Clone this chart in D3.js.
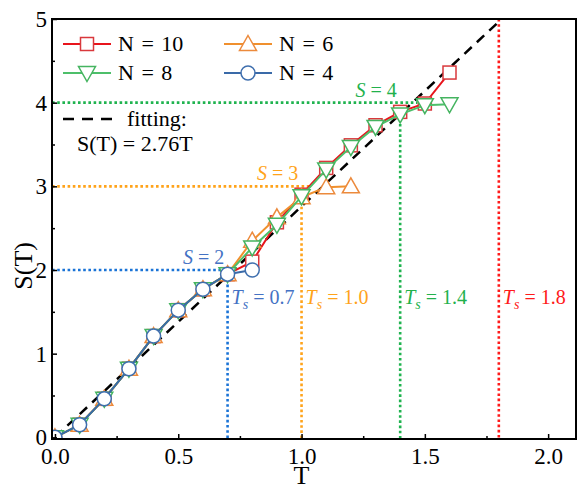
<!DOCTYPE html>
<html>
<head>
<meta charset="utf-8">
<script src="https://cdn.jsdelivr.net/npm/d3@7"></script>
<style>
  body { margin: 0; background: #fff; }
  text { font-family: "Liberation Serif", "DejaVu Serif", serif; }
</style>
</head>
<body>
<div id="wrapper"></div>
<script>
// data
const temps = [0, 0.1, 0.2, 0.3, 0.4, 0.5, 0.6, 0.7, 0.8, 0.9, 1.0, 1.1, 1.2, 1.3, 1.4, 1.5, 1.6]
const sN10 = [0, 0.15, 0.46, 0.82, 1.21, 1.52, 1.77, 1.95, 2.10, 2.57, 2.90, 3.22, 3.49, 3.73, 3.89, 3.99, 4.36]
const sN8  = [0, 0.15, 0.46, 0.82, 1.21, 1.52, 1.77, 1.95, 2.27, 2.54, 2.88, 3.20, 3.47, 3.71, 3.86, 3.97, 3.98]
const sN6  = [0, 0.15, 0.46, 0.82, 1.21, 1.52, 1.77, 1.95, 2.35, 2.63, 2.87, 2.99, 3.00]
const sN4  = [0, 0.15, 0.46, 0.82, 1.21, 1.52, 1.77, 1.95, 2.00]
const seriesNames = ["N = 10", "N = 6", "N = 8", "N = 4"]
const fitSlope = 2.76
const fitRange = [0, 1.8]
const xTicks = [0, 0.5, 1.0, 1.5, 2.0]
const xMinor = [0.25, 0.75, 1.25, 1.75]
const yTicks = [0, 1, 2, 3, 4, 5]
const yMinor = [0.5, 1.5, 2.5, 3.5, 4.5]
// threshold markers: S level, T_s, end of horizontal, top of vertical
const sLevels = [2, 3, 4]
const tsValues = [0.7, 1.0, 1.4, 1.8]
const hEnds = [0.72, 1.04, 1.47]
const vTops = [1.95, 2.88, 3.87, 5]

const dimensions = {
  width: 578,
  height: 488,
  margin: { top: 19, right: 2, bottom: 49, left: 52 },
}
dimensions.boundedWidth = dimensions.width - dimensions.margin.left - dimensions.margin.right
dimensions.boundedHeight = dimensions.height - dimensions.margin.top - dimensions.margin.bottom

const svg = d3.select("#wrapper").append("svg")
  .attr("width", dimensions.width)
  .attr("height", dimensions.height)

const bounds = svg.append("g")
  .attr("transform", `translate(${dimensions.margin.left},${dimensions.margin.top})`)

bounds.append("clipPath").attr("id", "plot-clip")
  .append("rect")
  .attr("width", dimensions.boundedWidth)
  .attr("height", dimensions.boundedHeight)

const plot = bounds.append("g").attr("clip-path", "url(#plot-clip)")

const xScale = d3.scaleLinear()
  .domain([-0.012, 2.113])
  .range([0, dimensions.boundedWidth])
const yScale = d3.scaleLinear()
  .domain([-0.02, 5])
  .range([dimensions.boundedHeight, 0])

// Threshold dotted lines
const dotColors = ["#1a73d6", "#ffa31a", "#1fb34f", "#ff1a1a"]
const textColors = ["#4472c4", "#ffa31a", "#22b14c", "#ff1a1a"]

sLevels.forEach((s, i) => {
  plot.append("line")
    .attr("x1", xScale(-0.012)).attr("x2", xScale(hEnds[i]))
    .attr("y1", yScale(s)).attr("y2", yScale(s))
    .attr("stroke", dotColors[i]).attr("stroke-width", 2.6)
    .attr("stroke-dasharray", "2.6,2.6")
})
tsValues.forEach((t, i) => {
  plot.append("line")
    .attr("x1", xScale(t)).attr("x2", xScale(t))
    .attr("y1", yScale(vTops[i])).attr("y2", yScale(-0.02))
    .attr("stroke", dotColors[i]).attr("stroke-width", 2.6)
    .attr("stroke-dasharray", "2.6,2.6")
})

// fitting line
plot.append("line")
  .attr("x1", xScale(fitRange[0])).attr("y1", yScale(fitSlope * fitRange[0]))
  .attr("x2", xScale(fitRange[1])).attr("y2", yScale(fitSlope * fitRange[1]))
  .attr("stroke", "#000").attr("stroke-width", 2.5)
  .attr("stroke-dasharray", "10,7")

// Series
const series = [
  { name: seriesNames[0], values: sN10, line: "#e8141c", edge: "#d9383c", shape: "square" },
  { name: seriesNames[1], values: sN6, line: "#f0902e", edge: "#ec8a3c", shape: "up" },
  { name: seriesNames[2], values: sN8, line: "#4dbf6a", edge: "#45b460", shape: "down" },
  { name: seriesNames[3], values: sN4, line: "#3a6aa8", edge: "#3f6fae", shape: "circle" },
]

const lineGenerator = d3.line()
  .x(d => xScale(d[0]))
  .y(d => yScale(d[1]))

function drawMarker(g, shape, cx, cy, edge) {
  let el
  if (shape === "square") {
    el = g.append("rect").attr("x", cx - 6.5).attr("y", cy - 6.5).attr("width", 13).attr("height", 13)
  } else if (shape === "circle") {
    el = g.append("circle").attr("cx", cx).attr("cy", cy).attr("r", 7)
  } else if (shape === "up") {
    el = g.append("path").attr("d", `M${cx},${cy - 8.5}L${cx + 8.5},${cy + 6.5}L${cx - 8.5},${cy + 6.5}Z`)
  } else {
    el = g.append("path").attr("d", `M${cx},${cy + 8.5}L${cx + 8.5},${cy - 6.5}L${cx - 8.5},${cy - 6.5}Z`)
  }
  el.attr("fill", "#fff").attr("stroke", edge).attr("stroke-width", 1.5)
}

series.forEach(s => {
  const pts = s.values.map((v, i) => [temps[i], v])
  const g = plot.append("g")
  g.append("path")
    .attr("d", lineGenerator(pts))
    .attr("fill", "none")
    .attr("stroke", s.line)
    .attr("stroke-width", 2)
  pts.forEach(p => drawMarker(g, s.shape, xScale(p[0]), yScale(p[1]), s.edge))
})

// Frame
bounds.append("rect")
  .attr("x", 0).attr("y", 0)
  .attr("width", dimensions.boundedWidth).attr("height", dimensions.boundedHeight)
  .attr("fill", "none").attr("stroke", "#000").attr("stroke-width", 2)

// Axes
const xAxis = bounds.append("g")
  .attr("transform", `translate(0,${dimensions.boundedHeight})`)
  .call(d3.axisBottom(xScale).tickValues(xTicks).tickFormat(d3.format(".1f"))
    .tickSizeInner(-5).tickSizeOuter(0).tickPadding(9))
xAxis.append("g")
  .call(d3.axisBottom(xScale).tickValues(xMinor).tickFormat("").tickSizeInner(-3).tickSizeOuter(0))
const yAxis = bounds.append("g")
  .call(d3.axisLeft(yScale).tickValues(yTicks).tickFormat(d3.format("d"))
    .tickSizeInner(-5).tickSizeOuter(0).tickPadding(5))
yAxis.append("g")
  .call(d3.axisLeft(yScale).tickValues(yMinor).tickFormat("").tickSizeInner(-3).tickSizeOuter(0))

svg.selectAll(".domain").remove()
svg.selectAll(".tick line").attr("stroke", "#000").attr("stroke-width", 1.5)
svg.selectAll(".tick text")
  .attr("fill", "#000")
  .style("font-family", "'Liberation Serif', serif")
  .style("font-size", "23px")

// Axis titles
svg.append("text")
  .attr("x", dimensions.margin.left + xScale(1.0))
  .attr("y", 484)
  .attr("text-anchor", "middle")
  .style("font-size", "26px")
  .text("T")
svg.append("text")
  .attr("transform", `translate(32,${dimensions.margin.top + yScale(2.05)}) rotate(-90)`)
  .attr("text-anchor", "middle")
  .style("font-size", "26px")
  .text("S(T)")

// Annotations
sLevels.forEach((s, i) => {
  const t = bounds.append("text")
    .attr("x", xScale(tsValues[i]) - 24)
    .attr("y", yScale(s) - 6)
    .attr("text-anchor", "middle")
    .attr("fill", textColors[i])
    .style("font-size", "20px")
  t.append("tspan").style("font-style", "italic").text("S")
  t.append("tspan").text(` = ${s}`)
})
tsValues.forEach((ts, i) => {
  const t = bounds.append("text")
    .attr("x", xScale(ts) + 4)
    .attr("y", yScale(1.59))
    .attr("fill", textColors[i])
    .style("font-size", "20px")
  t.append("tspan").style("font-style", "italic").text("T")
  t.append("tspan").style("font-style", "italic").style("font-size", "14px").attr("dy", 5).text("s")
  t.append("tspan").attr("dy", -5).text(` = ${d3.format(".1f")(ts)}`)
})

// Legend
const legend = svg.append("g")
const legendPos = [[63, 44], [224, 44], [63, 73], [224, 73]]
series.forEach((s, i) => {
  const [lx, ly] = legendPos[i]
  legend.append("line")
    .attr("x1", lx).attr("x2", lx + 48)
    .attr("y1", ly).attr("y2", ly)
    .attr("stroke", s.line).attr("stroke-width", 2)
  drawMarker(legend, s.shape, lx + 24, ly, s.edge)
  legend.append("text")
    .attr("x", lx + 55).attr("y", ly + 7)
    .style("font-size", "22px")
    .style("word-spacing", "2px")
    .text(s.name)
})
legend.append("line")
  .attr("x1", 63).attr("x2", 112)
  .attr("y1", 119).attr("y2", 119)
  .attr("stroke", "#000").attr("stroke-width", 2.5)
  .attr("stroke-dasharray", "11,8")
legend.append("text")
  .attr("x", 127).attr("y", 126)
  .style("font-size", "22px")
  .text("fitting:")
legend.append("text")
  .attr("x", 77).attr("y", 151)
  .style("font-size", "22px")
  .text(`S(T) = ${fitSlope}T`)
</script>
</body>
</html>
